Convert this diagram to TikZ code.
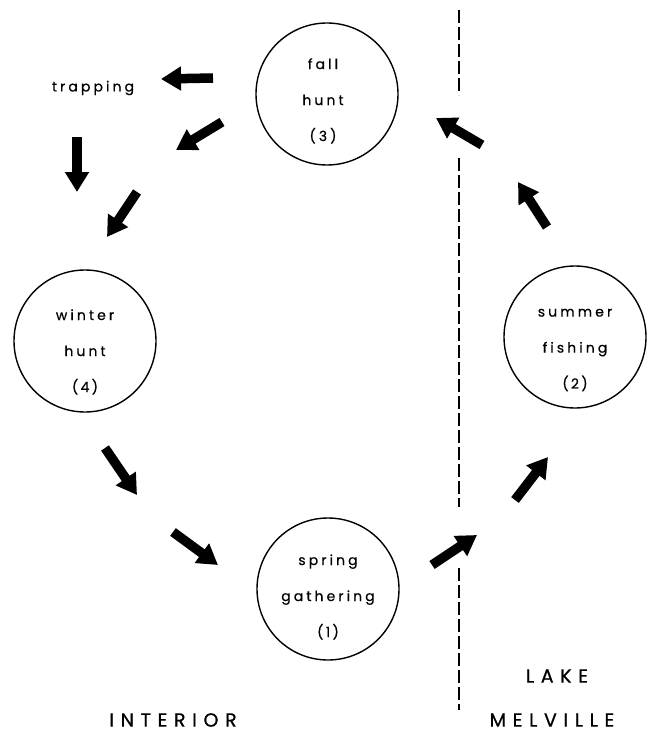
\documentclass[tikz,border=0pt]{standalone}
\usepackage{fontspec}
\setmainfont{Poppins}
\usetikzlibrary{arrows.meta}

\begin{document}
\begin{tikzpicture}[x=1pt,y=-1pt,
  season/.style={circle,draw=black,line width=1.4pt,minimum size=142pt,inner sep=0pt},
  lbl/.style={align=center,font=\fontsize{14}{36}\selectfont\addfontfeature{LetterSpace=22,FakeBold=0.5}},
  region/.style={font=\fontsize{19}{40}\selectfont\addfontfeature{LetterSpace=35,FakeBold=0.8},align=center},
  flow/.style={-{Triangle[length=20pt,width=23pt]},line width=9.5pt},
  border/.style={dash pattern=on 13pt off 4pt,line width=1.1pt}]
\useasboundingbox (0,0) rectangle (648,733);
% ---- seasons
\node[season] (fall)   at (327,94)  {};
\node[season] (winter) at (85,341)  {};
\node[season] (summer) at (575,337) {};
\node[season] (spring) at (328,589) {};
\node[lbl] (falltxt)   at (323,101) {fall\\hunt\\(3)};
\node[lbl] (wintertxt) at (85,352)  {winter\\hunt\\(\,4\,)};
\node[lbl] (summertxt) at (575,350) {summer\\fishing\\(\,2\,)};
\node[lbl] (springtxt) at (328,597) {spring\\gathering\\(\,1\,)};
\node[lbl] (trap) at (93,88) {trapping};
% ---- regions
\node[region] (interior) at (173,720) {INTERIOR};
\node[region] (lake) at (557,676) {LAKE};
\node[region] (melville) at (552,720) {MELVILLE};
% ---- shore line
\coordinate (b1) at (459,10);  \coordinate (b2) at (459,95);
\coordinate (b3) at (459,158); \coordinate (b4) at (459,507);
\coordinate (b5) at (459,568); \coordinate (b6) at (459,710);
\draw[border] (b1) -- (b2) (b3) -- (b4) (b5) -- (b6);
% ---- arrows (tail t, head h)
\coordinate (t1) at (213,78);   \coordinate (h1) at (161,79);
\coordinate (t2) at (222,122);  \coordinate (h2) at (176,150);
\coordinate (t3) at (77,137);   \coordinate (h3) at (77,192);
\coordinate (t4) at (137,192);  \coordinate (h4) at (107,237);
\coordinate (t5) at (105,448);  \coordinate (h5) at (137,495);
\coordinate (t6) at (173,532);  \coordinate (h6) at (218,565);
\coordinate (t7) at (432,565);  \coordinate (h7) at (477,535);
\coordinate (t8) at (515,500);  \coordinate (h8) at (548,457);
\coordinate (t9) at (547,227);  \coordinate (h9) at (518,182);
\coordinate (t10) at (482,145); \coordinate (h10) at (436,118);
\foreach \i in {1,...,10}
  \draw[flow] (t\i) -- (h\i);
\end{tikzpicture}
\end{document}
